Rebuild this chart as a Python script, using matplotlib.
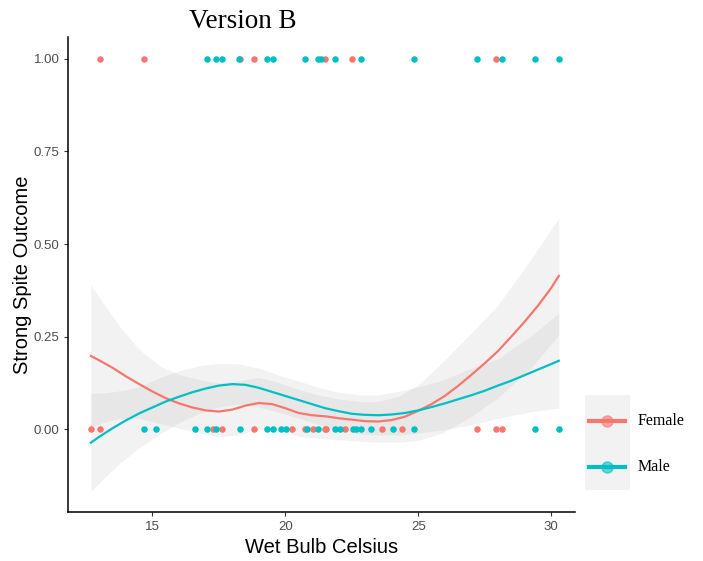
import numpy as np
import matplotlib.pyplot as plt
from matplotlib.lines import Line2D
from matplotlib.patches import Rectangle

RED = "#F8766D"
TEAL = "#00BFC4"

# raw observations (x = wet bulb, y = outcome 0/1)
female_x1 = [13.02, 14.67, 18.30, 18.81, 21.50, 22.50, 27.93]
male_x1 = [17.07, 17.38, 17.61, 18.24, 19.31, 19.53, 20.73, 21.23, 21.35,
           21.88, 22.86, 24.83, 27.20, 28.16, 29.41, 30.29]
female_x0 = [12.68, 13.02, 17.26, 17.61, 18.81, 20.26, 20.73, 21.04, 21.48,
             21.54, 22.26, 23.63, 24.40, 27.20, 27.93, 28.16]
male_x0 = [14.67, 15.12, 16.59, 17.05, 17.38, 18.28, 19.31, 19.53, 19.85,
           20.04, 20.81, 21.23, 21.88, 22.07, 22.54, 22.67, 22.86, 23.21,
           24.05, 24.83, 29.41, 30.29]

# smoothed fits
fit_x = [12.68, 13.0, 13.5, 14.0, 14.5, 15.0, 15.5, 16.0, 16.5, 17.0, 17.5,
         18.0, 18.5, 19.0, 19.5, 20.0, 20.5, 21.0, 21.5, 22.0, 22.5, 23.0,
         23.5, 24.0, 24.5, 25.0, 25.5, 26.0, 26.5, 27.0, 27.5, 28.0, 28.5,
         29.0, 29.5, 30.0, 30.29]
female_fit = [0.198, 0.186, 0.166, 0.143, 0.122, 0.102, 0.084, 0.070, 0.059,
              0.051, 0.048, 0.053, 0.064, 0.071, 0.068, 0.057, 0.044, 0.038,
              0.035, 0.030, 0.026, 0.022, 0.021, 0.025, 0.034, 0.050, 0.068,
              0.090, 0.117, 0.147, 0.178, 0.211, 0.250, 0.290, 0.333, 0.381,
              0.414]
male_fit = [-0.036, -0.020, 0.003, 0.024, 0.043, 0.059, 0.075, 0.088, 0.100,
            0.110, 0.118, 0.122, 0.120, 0.112, 0.101, 0.090, 0.079, 0.068,
            0.057, 0.049, 0.042, 0.039, 0.038, 0.040, 0.044, 0.051, 0.060,
            0.070, 0.081, 0.092, 0.104, 0.118, 0.131, 0.146, 0.161, 0.176,
            0.185]

# confidence bands
band_x = [12.68, 13.2, 13.8, 14.5, 15.3, 16.0, 16.8, 17.5, 18.2, 19.0, 19.8,
          20.6, 21.3, 22.0, 22.8, 23.5, 24.3, 25.0, 25.9, 27.0, 28.0, 29.3,
          30.29]
female_lo = [0.006, 0.020, 0.030, 0.030, 0.015, 0.003, -0.010, -0.020,
             -0.015, 0.000, -0.005, -0.020, -0.025, -0.028, -0.032, -0.035,
             -0.035, -0.030, -0.010, 0.035, 0.085, 0.170, 0.255]
female_hi = [0.390, 0.335, 0.275, 0.215, 0.170, 0.148, 0.133, 0.125, 0.130,
             0.140, 0.125, 0.105, 0.092, 0.082, 0.075, 0.075, 0.090, 0.120,
             0.180, 0.260, 0.335, 0.465, 0.570]
male_lo = [-0.168, -0.130, -0.090, -0.050, -0.012, 0.018, 0.045, 0.060, 0.068,
           0.060, 0.045, 0.028, 0.012, 0.000, -0.012, -0.015, -0.015, -0.010,
           -0.002, 0.012, 0.030, 0.048, 0.057]
male_hi = [0.097, 0.098, 0.104, 0.115, 0.140, 0.158, 0.172, 0.178, 0.177,
           0.165, 0.145, 0.128, 0.112, 0.100, 0.093, 0.093, 0.103, 0.115,
           0.132, 0.165, 0.190, 0.255, 0.313]

x_ticks = [15, 20, 25, 30]
y_ticks = [0.00, 0.25, 0.50, 0.75, 1.00]
groups = ["Female", "Male"]


def main() -> None:
    fig = plt.figure(figsize=(7.03, 5.61), dpi=100)
    ax = fig.add_axes([0.0967, 0.0868, 0.7212, 0.8467])

    for lo, hi in [(female_lo, female_hi), (male_lo, male_hi)]:
        ax.fill_between(band_x, lo, hi, color="#999999", alpha=0.12,
                        linewidth=0, zorder=1)

    ax.plot(fit_x, female_fit, color=RED, lw=1.6, zorder=3,
            solid_joinstyle="round")
    ax.plot(fit_x, male_fit, color=TEAL, lw=1.6, zorder=3,
            solid_joinstyle="round")

    ax.scatter(female_x0, np.zeros(len(female_x0)), s=22, color=RED,
               linewidths=0, zorder=4)
    ax.scatter(female_x1, np.ones(len(female_x1)), s=22, color=RED,
               linewidths=0, zorder=4)
    ax.scatter(male_x0, np.zeros(len(male_x0)), s=22, color=TEAL,
               linewidths=0, zorder=4)
    ax.scatter(male_x1, np.ones(len(male_x1)), s=22, color=TEAL,
               linewidths=0, zorder=4)

    ax.set_xlim(11.82, 30.9)
    ax.set_ylim(-0.224, 1.058)
    ax.set_xticks(x_ticks)
    ax.set_yticks(y_ticks)
    ax.set_yticklabels([f"{v:.2f}" for v in y_ticks])
    for s in ["top", "right"]:
        ax.spines[s].set_visible(False)
    for s in ["left", "bottom"]:
        ax.spines[s].set_linewidth(1.1)
        ax.spines[s].set_color("black")
    ax.tick_params(length=3, width=0.8, color="#333333", labelcolor="#4D4D4D",
                   labelsize=9.5, pad=3)
    for lab in ax.get_xticklabels() + ax.get_yticklabels():
        lab.set_family("Liberation Sans")

    ax.set_xlabel("Wet Bulb Celsius", family="Liberation Sans", fontsize=14.5,
                  labelpad=4)
    ax.set_ylabel("Strong Spite Outcome", family="Liberation Sans",
                  fontsize=14.5, labelpad=1)

    fig.text(243 / 703, 1 - 21 / 561, "Version B", family="Liberation Serif",
             fontsize=19.5, ha="center", va="center")

    # legend, drawn by hand in pixel coords
    W, H = 703, 561
    fig.patches.append(Rectangle((585 / W, 1 - 490 / H), 45 / W, 95 / H,
                                 transform=fig.transFigure,
                                 facecolor="#F2F2F2", edgecolor="none"))
    for name, col, ypx in zip(groups, [RED, TEAL], [421, 467]):
        yf = 1 - ypx / H
        fig.add_artist(Line2D([589 / W, 625 / W], [yf, yf], color=col, lw=3,
                              transform=fig.transFigure))
        fig.add_artist(Line2D([607 / W], [yf], marker="o", markersize=8,
                              color=col, alpha=0.6, lw=0,
                              transform=fig.transFigure))
        fig.text(638 / W, yf, name, family="Liberation Serif", fontsize=11.5,
                 va="center", ha="left")

    fig.savefig("out.png", dpi=100)
    plt.close(fig)


if __name__ == "__main__":
    main()
